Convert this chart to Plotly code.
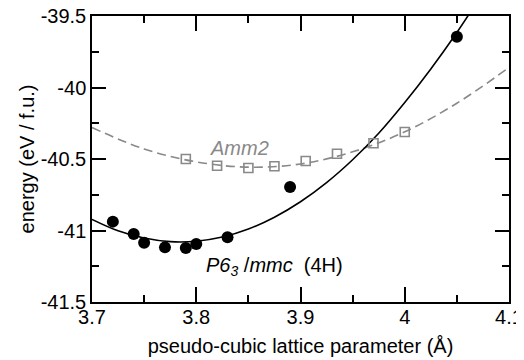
import plotly.graph_objects as go

# P6_3/mmc (4H) computed points
p63_x = [3.72, 3.74, 3.75, 3.77, 3.79, 3.80, 3.83, 3.89, 4.05]
p63_y = [-40.938, -41.024, -41.085, -41.118, -41.122, -41.094, -41.048, -40.696, -39.645]

# Amm2 computed points
amm2_x = [3.79, 3.82, 3.85, 3.875, 3.905, 3.935, 3.97, 4.00]
amm2_y = [-40.500, -40.547, -40.563, -40.551, -40.514, -40.463, -40.390, -40.311]

# fitted curves
p63_fit_x = [3.700, 3.725, 3.750, 3.775, 3.800, 3.825, 3.850, 3.875, 3.900, 3.925,
             3.950, 3.975, 4.000, 4.025, 4.050, 4.065]
p63_fit_y = [-40.922, -41.002, -41.053, -41.078, -41.075, -41.046, -40.990, -40.907, -40.799,
             -40.665, -40.505, -40.320, -40.105, -39.870, -39.615, -39.450]

amm2_fit_x = [3.70, 3.75, 3.80, 3.85, 3.90, 3.95, 4.00, 4.05, 4.10]
amm2_fit_y = [-40.28, -40.43, -40.52, -40.557, -40.535, -40.45, -40.31, -40.11, -39.86]

y_tickvals = [-41.5, -41, -40.5, -40, -39.5]
y_ticktext = ["-41.5", "-41", "-40.5", "-40", "-39.5"]
y_minorvals = [-41.25, -40.75, -40.25, -39.75]
x_tickvals = [3.7, 3.8, 3.9, 4.0, 4.1]
x_ticktext = ["3.7", "3.8", "3.9", "4", "4.1"]
x_minorvals = [3.75, 3.85, 3.95, 4.05]

FONT = "Liberation Sans, Arial, sans-serif"
GRAY = "#898989"
LW = 1.5

fig = go.Figure()
fig.add_trace(go.Scatter(x=amm2_fit_x, y=amm2_fit_y, mode="lines",
                         line=dict(color=GRAY, width=1.6, dash="9px,5px", shape="spline"),
                         hoverinfo="skip", showlegend=False))
fig.add_trace(go.Scatter(x=p63_fit_x, y=p63_fit_y, mode="lines",
                         line=dict(color="black", width=1.6, shape="spline"),
                         hoverinfo="skip", showlegend=False))
fig.add_trace(go.Scatter(x=amm2_x, y=amm2_y, mode="markers",
                         marker=dict(symbol="square-open", size=9, color=GRAY,
                                     line=dict(width=1.6, color=GRAY)),
                         showlegend=False))
fig.add_trace(go.Scatter(x=p63_x, y=p63_y, mode="markers",
                         marker=dict(symbol="circle", size=12, color="black"),
                         showlegend=False))

fig.add_annotation(x=3.811, y=-40.423, xref="x", yref="y", text="<i>Amm2</i>",
                   showarrow=False, xanchor="left", yanchor="middle",
                   font=dict(family=FONT, size=20, color=GRAY))
fig.add_annotation(x=3.807, y=-41.25, xref="x", yref="y",
                   text="<i>P6<sub>3</sub></i>\u00a0/<i>mmc</i>\u00a0\u00a0(4H)",
                   showarrow=False, xanchor="left", yanchor="middle",
                   font=dict(family=FONT, size=20, color="black"))

fig.update_xaxes(range=[3.7, 4.1], tickmode="array", tickvals=x_tickvals, ticktext=x_ticktext,
                 showgrid=False, zeroline=False, showline=True, linecolor="#000000", linewidth=LW,
                 mirror="allticks", ticks="inside", ticklen=15, tickwidth=LW, tickcolor="#000000",
                 ticklabeloverflow="allow", automargin=False, ticklabelstandoff=-4,
                 minor=dict(tickmode="array", tickvals=x_minorvals, ticks="inside", ticklen=7,
                            tickwidth=LW, tickcolor="#000000", showgrid=False),
                 tickfont=dict(family=FONT, size=20, color="black"),
                 title=dict(text="pseudo-cubic lattice parameter (Å)", standoff=12,
                            font=dict(family=FONT, size=20, color="black")))
fig.update_yaxes(range=[-41.5, -39.5], tickmode="array", tickvals=y_tickvals, ticktext=y_ticktext,
                 showgrid=False, zeroline=False, showline=True, linecolor="#000000", linewidth=LW,
                 mirror="allticks", ticks="inside", ticklen=14, tickwidth=LW, tickcolor="#000000",
                 ticklabeloverflow="allow", automargin=False,
                 minor=dict(tickmode="array", tickvals=y_minorvals, ticks="inside", ticklen=7,
                            tickwidth=LW, tickcolor="#000000", showgrid=False),
                 tickfont=dict(family=FONT, size=20, color="black"),
                 title=dict(text="energy (eV / f.u.)", standoff=1,
                            font=dict(family=FONT, size=20, color="black")))

fig.update_layout(width=516, height=352, margin=dict(l=84, r=15, t=8, b=58),
                  plot_bgcolor="white", paper_bgcolor="white",
                  font=dict(family=FONT, size=20, color="black"))

fig.write_html("out.html")
